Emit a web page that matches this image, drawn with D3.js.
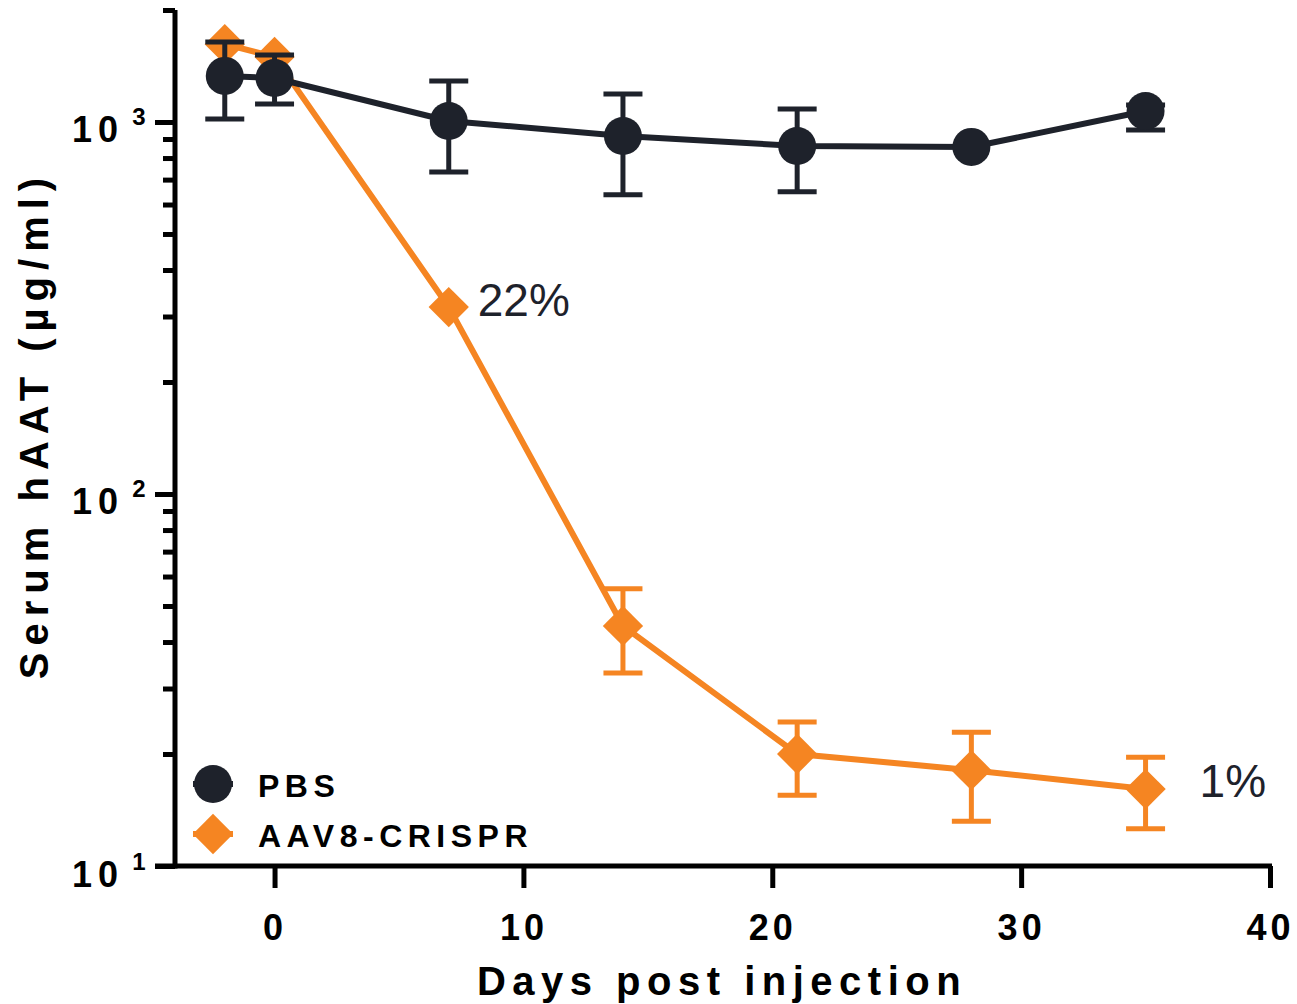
<!DOCTYPE html>
<html><head><meta charset="utf-8">
<script src="https://cdn.jsdelivr.net/npm/d3@7"></script>
<style>body{margin:0;background:#fff}svg{display:block}</style>
</head><body>
<svg id="chart" width="1297" height="1004"></svg>
<script>
// ---- data ----
const days = [-2, 0, 7, 14, 21, 28, 35];
const seriesNames = ["PBS", "AAV8-CRISPR"];
const pbsMean = [1330, 1313, 1006, 917, 862, 857, 1070];
const pbsHigh = [1641, 1514, 1289, 1189, 1084, 857, 1110];
const pbsLow  = [1019, 1118, 734, 637, 649, 857, 952];
const crisprMean = [1619, 1496, 318, 44.2, 20.0, 18.1, 16.1];
const crisprHigh = [1619, 1496, 318, 55.6, 24.4, 22.9, 19.6];
const crisprLow  = [1619, 1496, 318, 33.0, 15.5, 13.2, 12.6];
const xTicks = [0, 10, 20, 30, 40];
const yMajorTicks = [10, 100, 1000];
const yMinorTicks = [20,30,40,50,60,70,80,90,200,300,400,500,600,700,800,900,2000];
const annotationLabels = ["22%", "1%"];
const annotationDays = [7, 35];
const annotationValues = [318, 16.1];
const xTitle = "Days post injection";
const yTitle = "Serum hAAT (µg/ml)";

// ---- styles ----
const black = "#1e222b", orange = "#f58522";
const font = "'Liberation Sans', Arial, Helvetica, sans-serif";

const svg = d3.select("#chart");
const x = d3.scaleLinear().domain([-4, 40]).range([175, 1270]);
const y = d3.scaleLog().domain([10, 2000]).range([866, 10]);

// ---- axes ----
const axisStroke = 5;
const xAxisG = svg.append("g").attr("transform", `translate(0,${y(10)})`)
  .call(d3.axisBottom(x).tickValues(xTicks).tickSize(22).tickSizeOuter(0).tickPadding(26).tickFormat(d3.format("d")));
xAxisG.select(".domain").attr("stroke", "#000").attr("stroke-width", axisStroke)
  .attr("d", `M${x(-4) - 20},0H${x(40) + 2}`);
xAxisG.selectAll(".tick line").attr("stroke", "#000").attr("stroke-width", axisStroke);
xAxisG.selectAll(".tick text").attr("fill", "#000").attr("font-family", font)
  .attr("font-weight", "bold").attr("font-size", 36).attr("letter-spacing", 4);

const yAxisG = svg.append("g").attr("transform", `translate(${x(-4)},0)`)
  .call(d3.axisLeft(y).tickValues(yMajorTicks).tickSize(20).tickSizeOuter(0).tickFormat(""));
yAxisG.select(".domain").attr("stroke", "#000").attr("stroke-width", axisStroke)
  .attr("d", `M0,${y(2000)}V${y(10) + 2.5}`);
yAxisG.selectAll(".tick line").attr("stroke", "#000").attr("stroke-width", axisStroke);
yAxisG.selectAll(".tick").each(function(d) {
  d3.select(this).append("text").attr("x", -51).attr("y", 20)
    .attr("text-anchor", "end").attr("fill", "#000").attr("font-family", font)
    .attr("font-weight", "bold").attr("font-size", 36).attr("letter-spacing", 6).text("10");
  d3.select(this).append("text").attr("x", -36).attr("y", 3)
    .attr("text-anchor", "middle").attr("fill", "#000").attr("font-family", font)
    .attr("font-weight", "bold").attr("font-size", 24).text(Math.round(Math.log10(d)));
});
const yMinorG = svg.append("g").attr("transform", `translate(${x(-4)},0)`)
  .call(d3.axisLeft(y).tickValues(yMinorTicks).tickSize(12).tickFormat(""));
yMinorG.select(".domain").remove();
yMinorG.selectAll(".tick line").attr("stroke", "#000").attr("stroke-width", axisStroke);

// titles
svg.append("text").attr("x", 722).attr("y", 995).attr("text-anchor", "middle")
  .attr("font-family", font).attr("font-weight", "bold").attr("font-size", 40)
  .attr("letter-spacing", 6.5).attr("fill", "#000").text(xTitle);
svg.append("text").attr("transform", "translate(48,425) rotate(-90)").attr("text-anchor", "middle")
  .attr("font-family", font).attr("font-weight", "bold").attr("font-size", 40)
  .attr("letter-spacing", 7).attr("fill", "#000").text(yTitle);

// ---- series ----
function build(mean, hi, lo) {
  return days.map((d, i) => ({day: d, v: mean[i], hi: hi[i], lo: lo[i]}));
}
const series = [
  {name: seriesNames[1], color: orange, shape: "diamond", data: build(crisprMean, crisprHigh, crisprLow)},
  {name: seriesNames[0], color: black, shape: "circle", data: build(pbsMean, pbsHigh, pbsLow)}
];
const circleSym = d3.symbol().type(d3.symbolCircle).size(Math.PI * 19 * 19);
const diamondSym = d3.symbol().type(d3.symbolSquare).size(28.5 * 28.5);
const line = d3.line().x(d => x(d.day)).y(d => y(d.v));
const capW = 39;

series.forEach(s => {
  const g = svg.append("g");
  g.append("path").datum(s.data).attr("d", line).attr("fill", "none")
    .attr("stroke", s.color).attr("stroke-width", 6);
  const eb = g.selectAll(".eb").data(s.data.filter(d => d.hi !== d.lo)).join("g");
  eb.append("line").attr("x1", d => x(d.day)).attr("x2", d => x(d.day))
    .attr("y1", d => y(d.hi)).attr("y2", d => y(d.lo)).attr("stroke", s.color).attr("stroke-width", 5);
  ["hi", "lo"].forEach(k => {
    eb.append("line").attr("x1", d => x(d.day) - capW / 2).attr("x2", d => x(d.day) + capW / 2)
      .attr("y1", d => y(d[k])).attr("y2", d => y(d[k])).attr("stroke", s.color).attr("stroke-width", 5);
  });
  g.selectAll(".m").data(s.data).join("path")
    .attr("d", s.shape === "circle" ? circleSym : diamondSym)
    .attr("transform", d => `translate(${x(d.day)},${y(d.v)})` + (s.shape === "circle" ? "" : " rotate(45)"))
    .attr("fill", s.color);
});

// annotations
annotationLabels.forEach((lab, i) => {
  svg.append("text").attr("x", x(annotationDays[i]) + (i === 0 ? 29 : 54))
    .attr("y", y(annotationValues[i]) + (i === 0 ? 9 : 8))
    .attr("font-family", font).attr("font-size", 46).attr("fill", black).text(lab);
});

// ---- legend ----
const legend = [
  {name: seriesNames[0], color: black, shape: "circle", cy: 784},
  {name: seriesNames[1], color: orange, shape: "diamond", cy: 834}
];
legend.forEach(l => {
  svg.append("line").attr("x1", 193).attr("x2", 233).attr("y1", l.cy).attr("y2", l.cy)
    .attr("stroke", l.color).attr("stroke-width", 6);
  svg.append("path").attr("d", l.shape === "circle" ? circleSym : diamondSym)
    .attr("transform", `translate(213,${l.cy})` + (l.shape === "circle" ? "" : " rotate(45)"))
    .attr("fill", l.color);
  svg.append("text").attr("x", 258).attr("y", l.cy + 13).attr("font-family", font)
    .attr("font-weight", "bold").attr("font-size", 32).attr("letter-spacing", 5.5)
    .attr("fill", "#000").text(l.name);
});
</script>
</body></html>
